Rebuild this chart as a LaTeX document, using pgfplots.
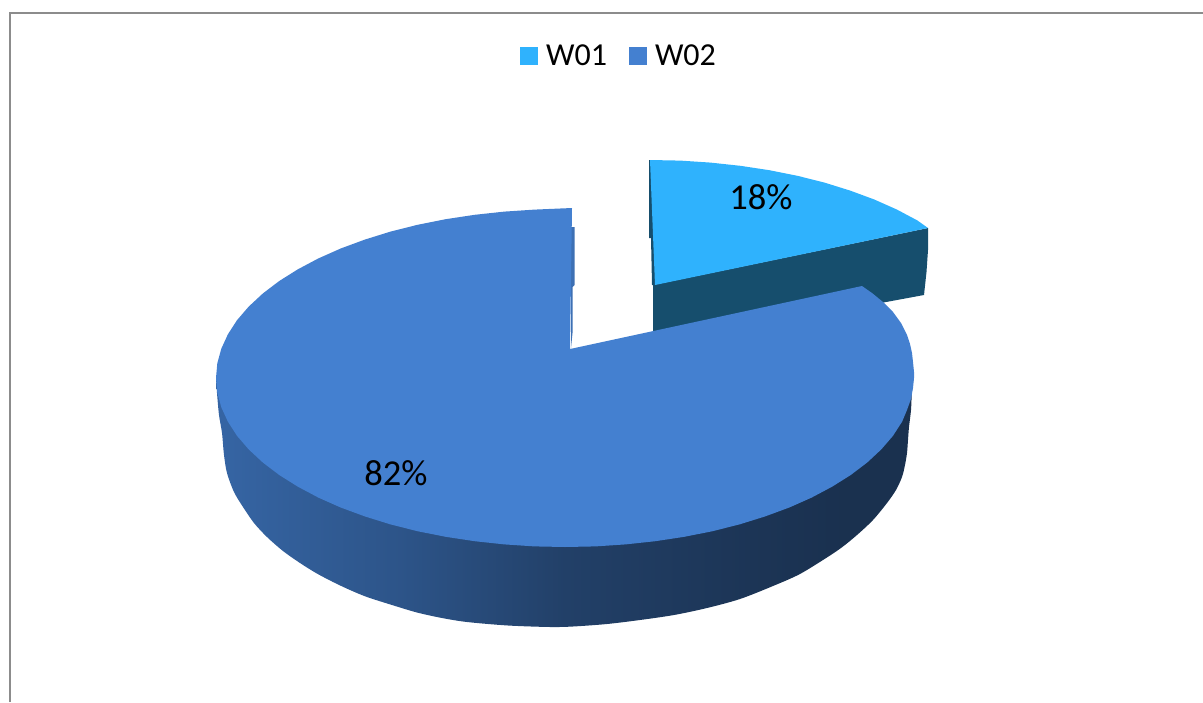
\documentclass[border=0pt]{standalone}
\usepackage{fontspec}
\setmainfont{Carlito}
\usepackage{pgfplots}
\pgfplotsset{compat=1.18}

\definecolor{wone}{HTML}{2FB2FD}
\definecolor{wonedark}{HTML}{164E6D}
\definecolor{wtwo}{HTML}{4480D0}
\definecolor{wtwoslit}{HTML}{3D70B4}
\definecolor{frameline}{HTML}{8C8C8C}

% side of the big slice: 100bp = x from 216 to 914
\pgfdeclarehorizontalshading{sidegrad}{100bp}{
  color(0bp)=(wtwo!92!black);
  color(14bp)=(wtwo!85!black);
  color(26bp)=(wtwo!78!black);
  color(38bp)=(wtwo!66!black);
  color(50bp)=(wtwo!50!black);
  color(62bp)=(wtwo!42!black);
  color(70bp)=(wtwo!38!black);
  color(100bp)=(wtwo!38!black)
}

\begin{document}
\begin{tikzpicture}
\useasboundingbox (0,0) rectangle (1203pt,702pt);
\begin{axis}[
    scale only axis,
    width=1203pt, height=702pt,
    xmin=0, xmax=1203, ymin=0, ymax=702,
    y dir=reverse,
    hide axis,
    clip=false,
    legend style={
        at={(axis cs:619,56)}, anchor=center,
        draw=none, fill=none,
        legend columns=2,
        font=\fontsize{32}{32}\selectfont,
        /tikz/every odd column/.append style={column sep=6pt},
        /tikz/every even column/.append style={column sep=20pt},
    },
    legend image code/.code={
        \path[#1] (0pt,-9pt) rectangle (18pt,9pt);
    },
]
% frame
\addplot[frameline, line width=2pt, forget plot] coordinates {
    (10,702) (10,13) (1203,13)
};
% W01: sliver on the left
\addplot[wonedark, fill=wonedark, draw=none, forget plot] coordinates {
    (649,160) (652,160) (656,285) (652,285) (651,238) (649,238)
} -- cycle;
% W01: front wall
\addplot[wonedark, fill=wonedark, draw=none, forget plot] coordinates {
    (653,285) (928,228) (928,250) (926.5,272) (924,295) (870,305) (653,340)
} -- cycle;
% W01: top
\addplot[fill=wone, draw=none] coordinates {
    (650,160) (680.4,160.6) (710.6,162.6) (740.3,165.8) (769.4,170.2)
    (797.5,175.8) (824.5,182.6) (850.2,190.6) (874.3,199.5) (896.8,209.5)
    (917.3,220.4) (928,228) (655,285)
} -- cycle;
\addlegendentry{W01}
% W02: side wall
\addplot[shading=sidegrad, draw=none, forget plot, smooth, tension=0.5] coordinates {
    (216,378) (217,393) (219,415) (222,433) (224,455) (227,473) (234,492)
    (243,507) (254,523) (267,537) (283,551) (300,563) (316,573) (333,582)
    (350,590) (367,597) (392,605) (417,612.5) (442,618) (467,622) (508,625.5)
    (550,627) (573,626.5) (607,624) (640,620) (674,615) (707,608) (740,599)
    (773,586) (799,574.5) (823,560) (841,548) (857,535) (873,520) (887,503)
    (896,490) (902,477) (905,465) (907,453) (908,440) (909,427) (911,410)
    (912,390) (914,375)
};
% W02: cut face seen through the gap
\addplot[fill=wtwoslit, draw=none, forget plot] coordinates {
    (571,227) (574.5,227) (574.5,285) (572.5,287) (572.5,333) (571,348)
} -- cycle;
% W02: top
\addplot[fill=wtwo, draw=none] coordinates {
    (572,208) (534.6,209.6) (504.4,211.6) (474.7,214.8) (445.6,219.2)
    (417.5,224.8) (390.5,231.6) (364.8,239.6) (340.7,248.5) (318.2,258.5)
    (297.7,269.4) (279.1,281.1) (262.8,293.5) (248.7,306.6) (237,320.2)
    (227.9,334.3) (221.3,348.7) (217.3,363.3) (216,378) (217.3,392.7)
    (221.3,407.3) (227.9,421.7) (237,435.8) (248.7,449.4) (262.8,462.5)
    (279.1,474.9) (297.7,486.6) (318.2,497.5) (340.7,507.5) (364.8,516.4)
    (390.5,524.4) (417.5,531.2) (445.6,536.8) (474.7,541.2) (504.4,544.4)
    (534.6,546.4) (565,547) (595.4,546.4) (625.6,544.4) (655.3,541.2)
    (684.4,536.8) (712.5,531.2) (739.5,524.4) (765.2,516.4) (789.3,507.5)
    (811.8,497.5) (832.3,486.6) (850.9,474.9) (867.2,462.5) (881.3,449.4)
    (893,435.8) (902.1,421.7) (907,410) (911,399) (913,388) (914,378)
    (914,372) (913,362) (912,353) (910,344) (907,335) (904,329) (901,323)
    (893,312) (883,302) (872,293) (862,286) (570,349)
} -- cycle;
\addlegendentry{W02}
% percentage labels
\node[font=\fontsize{36.5}{36.5}\selectfont] at (axis cs:761,197) {18\%};
\node[font=\fontsize{36.5}{36.5}\selectfont] at (axis cs:396,473) {82\%};
\end{axis}
\end{tikzpicture}
\end{document}
